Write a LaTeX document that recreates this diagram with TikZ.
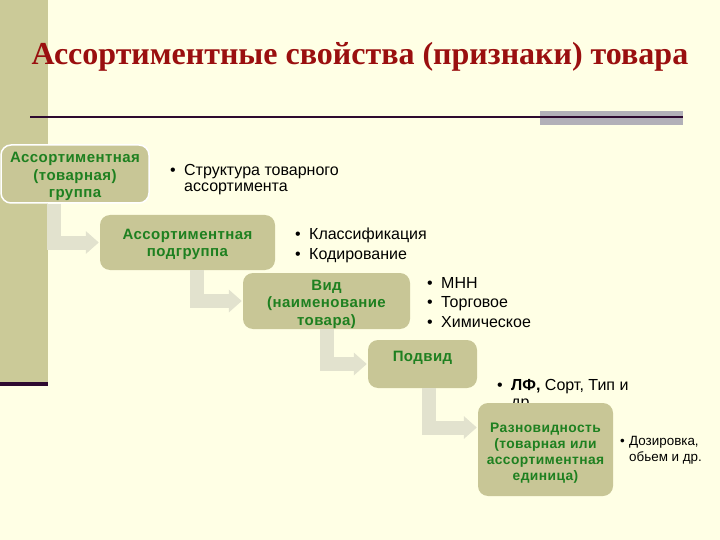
\documentclass[tikz,border=0pt]{standalone}
\usepackage{fontspec}
\setmainfont{Liberation Sans}
\newfontfamily\titlefont{Liberation Serif}
\newfontfamily\boxfont[LetterSpace=3]{Liberation Sans}
\usetikzlibrary{arrows.meta}
\definecolor{bg}{HTML}{FFFFE5}
\definecolor{leftbar}{HTML}{CBCA98}
\definecolor{darkline}{HTML}{2E0A30}
\definecolor{grayblock}{HTML}{B2B0B8}
\definecolor{titlered}{HTML}{9A0F0F}
\definecolor{boxfill}{HTML}{C8C696}
\definecolor{boxgreen}{HTML}{1E8020}
\definecolor{arrowc}{HTML}{E2E2CE}
\tikzset{
  box/.style={fill=boxfill, rounded corners=10pt, text=boxgreen, inner sep=0pt,
    font=\boxfont\fontsize{15}{17.5}\selectfont\bfseries},
  blist/.style={anchor=north west, align=left, inner sep=0pt, text=black,
    font=\fontsize{16}{16}\selectfont},
  bent/.style={draw=arrowc, line width=14pt, -{Triangle[width=22pt,length=13pt]}, shorten >=1pt},
}
\newcommand{\bul}{\makebox[14pt][l]{•}}
\newcommand{\nobul}{\makebox[14pt][l]{}}
\newcommand{\lowtext}[2][3pt]{\raisebox{-#1}[\height][\depth]{\begin{tabular}{@{}c@{}}#2\end{tabular}}}
\begin{document}
\begin{tikzpicture}[x=1pt,y=-1pt]
\fill[bg] (0,0) rectangle (720,540);
\useasboundingbox (0,0) rectangle (720,540);
\fill[leftbar] (0,0) rectangle (48,382);
\fill[darkline] (0,382) rectangle (48,386);
\fill[grayblock] (540,111) rectangle (683,125);
\draw[darkline, line width=2pt] (30,117) -- (683,117);
\node[text=titlered, font=\titlefont\fontsize{32}{36}\selectfont\bfseries] (title) at (360,57)
  {Ассортиментные свойства (признаки) товара};

\node[blist] (l1) at (170,164) {\bul Структура товарного\\\nobul ассортимента};
\node[blist, font=\fontsize{16}{20}\selectfont] (l2) at (295,228) {\bul Классификация\\\bul Кодирование};
\node[blist, font=\fontsize{16}{19.5}\selectfont] (l3) at (427,277) {\bul МНН\\\bul Торговое\\\bul Химическое};
\node[blist, font=\fontsize{16}{17}\selectfont] (l4) at (497,379) {\bul \textbf{ЛФ,} Сорт, Тип и\\\nobul др.};
\node[blist, font=\fontsize{13.4}{16}\selectfont] (l5) at (620,436) {\makebox[9pt][l]{•}Дозировка,\\\makebox[9pt][l]{}обьем и др.};

\node[box, draw=white, line width=1.5pt, minimum width=148pt, minimum height=58pt] (b1) at (75,174)
  {\lowtext{Ассортиментная\\(товарная)\\группа}};
\node[box, minimum width=175pt, minimum height=55pt] (b2) at (187.5,242.5)
  {\lowtext[2pt]{Ассортиментная\\подгруппа}};
\node[box, minimum width=167pt, minimum height=56pt] (b3) at (326.5,301)
  {\lowtext{Вид\\(наименование\\товара)}};
\node[box, minimum width=109pt, minimum height=48pt] (b4) at (422.5,364)
  {\smash{\raisebox{3pt}{Подвид}}};
\node[box, minimum width=135pt, minimum height=93pt, font=\boxfont\fontsize{13.8}{16}\selectfont\bfseries] (b5) at (545.5,449.5)
  {\lowtext[3.5pt]{Разновидность\\(товарная или\\ассортиментная\\единица)}};

\draw[bent] ([xshift=53.5pt]b1.south west) |- (b2.west);
\draw[bent] ([xshift=97.5pt]b2.south west) |- (b3.west);
\draw[bent] ([xshift=84pt]b3.south west) |- (b4.west);
\draw[bent] ([xshift=61pt]b4.south west) |- ([yshift=22pt]b5.west);
\end{tikzpicture}
\end{document}
